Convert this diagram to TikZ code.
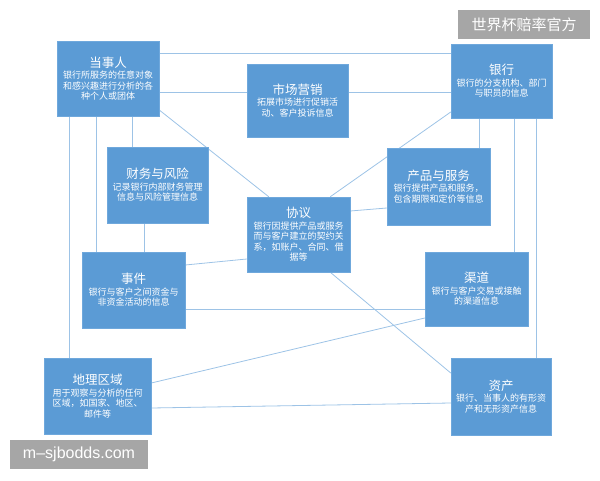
\documentclass[tikz,border=0pt]{standalone}
\usepackage{fontspec}
\setmainfont{Noto Sans CJK SC}
\newfontfamily\urlfont{Liberation Sans}
\usetikzlibrary{backgrounds}
\definecolor{boxblue}{HTML}{5B9BD5}
\definecolor{boxedge}{HTML}{6FA8DC}
\definecolor{linkblue}{HTML}{9DC3E6}
\definecolor{markgray}{HTML}{A6A6A6}
\newcommand{\ttl}[1]{{\fontsize{12.5}{14}\selectfont #1}\\[1pt]}

\begin{document}
\begin{tikzpicture}[
    x=1pt, y=-1pt,
    entity/.style={draw=boxedge, fill=boxblue, text=white, align=center, inner sep=0pt,
        font=\fontsize{9}{10.5}\selectfont, line width=0.5pt},
    link/.style={draw=linkblue, line width=0.8pt},
    watermark/.style={fill=markgray, text=white, inner sep=0pt},
]
\useasboundingbox (0,0) rectangle (600,480);

% Entities
\node[entity, minimum width=102pt, minimum height=75pt] (dsr) at (108,78.5)
    {\ttl{当事人}银行所服务的任意对象\\和感兴趣进行分析的各\\种个人或团体};
\node[entity, minimum width=101pt, minimum height=73pt] (scyx) at (297.5,100.5)
    {\ttl{市场营销}拓展市场进行促销活\\动、客户投诉信息};
\node[entity, minimum width=101pt, minimum height=74pt] (yh) at (501.5,81)
    {\ttl{银行}银行的分支机构、部门\\与职员的信息};
\node[entity, minimum width=101pt, minimum height=76pt] (cwfx) at (157.5,185)
    {\ttl{财务与风险}记录银行内部财务管理\\信息与风险管理信息};
\node[entity, minimum width=103pt, minimum height=77pt] (cpfw) at (438.5,186.5)
    {\ttl{产品与服务}银行提供产品和服务，\\包含期限和定价等信息};
\node[entity, minimum width=103pt, minimum height=75pt] (xy) at (298.5,234.5)
    {\ttl{协议}银行因提供产品或服务\\而与客户建立的契约关\\系，如账户、合同、借\\据等};
\node[entity, minimum width=103pt, minimum height=76pt] (sj) at (133.5,290)
    {\ttl{事件}银行与客户之间资金与\\非资金活动的信息};
\node[entity, minimum width=103pt, minimum height=74pt] (qd) at (476.5,289)
    {\ttl{渠道}银行与客户交易或接触\\的渠道信息};
\node[entity, minimum width=107pt, minimum height=76pt] (dlqy) at (97.5,396)
    {\ttl{地理区域}用于观察与分析的任何\\区域，如国家、地区、\\邮件等};
\node[entity, minimum width=100pt, minimum height=77pt] (zc) at (501,396.5)
    {\ttl{资产}银行、当事人的有形资\\产和无形资产信息};

% Links
\begin{scope}[on background layer]
\draw[link] ([yshift=25.5pt]dsr.east) -- ([yshift=28pt]yh.west);
\draw[link] ([yshift=-13.5pt]dsr.east) -- ([yshift=8.5pt]scyx.west);
\draw[link] ([yshift=8.5pt]scyx.east) -- ([yshift=-11pt]yh.west);
\draw[link] ([xshift=13pt]dsr.south west) -- ([xshift=26pt]dlqy.north west);
\draw[link] ([xshift=40pt]dsr.south west) -- ([xshift=15pt]sj.north west);
\draw[link] ([xshift=76pt]dsr.south west) -- ([xshift=26pt]cwfx.north west);
\draw[link] ([yshift=-31.5pt]dsr.east) -- ([xshift=22pt]xy.north west);
\draw[link] ([xshift=38pt]cwfx.south west) -- ([xshift=63pt]sj.north west);
\draw[link] ([yshift=25pt]sj.east) -- ([yshift=-24.5pt]xy.west);
\draw[link] ([yshift=-19pt]sj.east) -- ([yshift=-20pt]qd.west);
\draw[link] ([yshift=23.5pt]xy.east) -- ([yshift=-21.5pt]cpfw.west);
\draw[link] ([yshift=-31pt]yh.west) -- ([xshift=-20pt]xy.north east);
\draw[link] ([xshift=29pt]yh.south west) -- ([xshift=93pt]cpfw.north west);
\draw[link] ([xshift=64pt]yh.south west) -- ([xshift=90pt]qd.north west);
\draw[link] ([xshift=86pt]yh.south west) -- ([xshift=86pt]zc.north west);
\draw[link] ([xshift=-20pt]xy.south east) -- ([yshift=23.5pt]zc.west);
\draw[link] ([yshift=13pt]dlqy.east) -- ([yshift=-29pt]qd.west);
\draw[link] ([yshift=-12pt]dlqy.east) -- ([yshift=-6.5pt]zc.west);
\end{scope}

% Watermarks
\node[watermark, minimum width=132pt, minimum height=29pt, font=\fontsize{15}{17}\selectfont] (wmtop) at (524,24.5) {世界杯赔率官方};
\node[watermark, minimum width=138pt, minimum height=29pt, font=\urlfont\fontsize{16}{18}\selectfont] (wmbot) at (79,454.5) {m–sjbodds.com};

\end{tikzpicture}
\end{document}
